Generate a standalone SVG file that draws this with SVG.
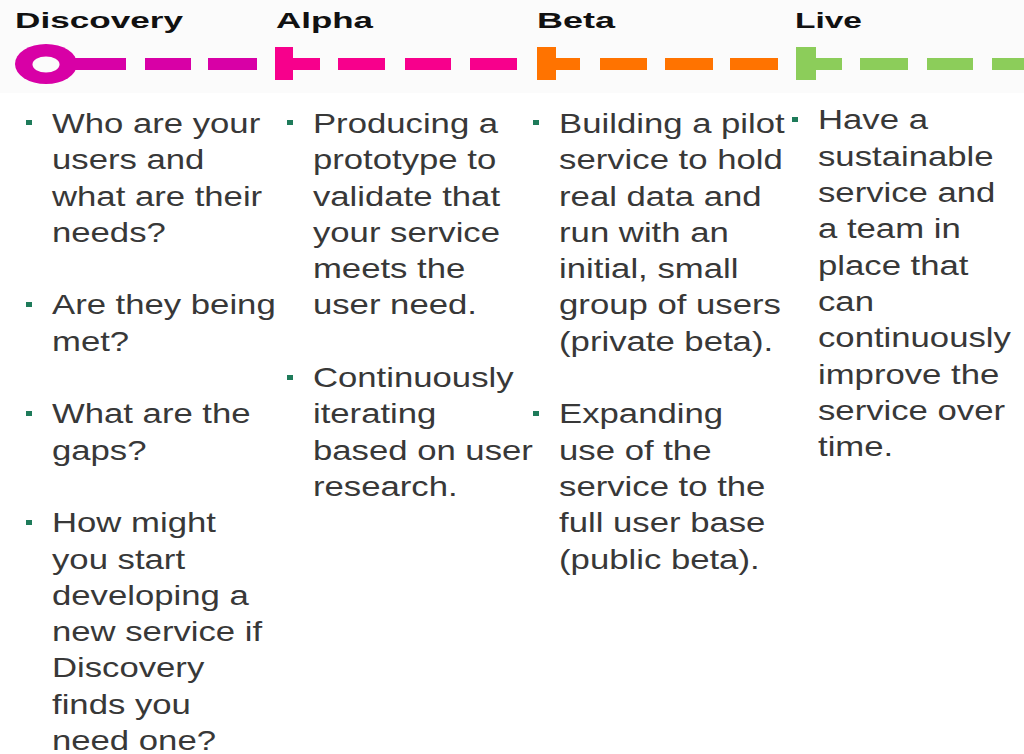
<svg xmlns="http://www.w3.org/2000/svg" width="1024" height="754" viewBox="0 0 1024 754">
<style>
.lbl{font-family:"Liberation Sans",Arial,sans-serif;font-weight:bold;font-size:22px;fill:#111}
.body{font-family:"Liberation Sans",Arial,sans-serif;font-size:27.5px;fill:#383838}
.bul{fill:#1e7b5a}
.disc{fill:#d800a6}.alpha{fill:#f7008c}.beta{fill:#ff7300}.live{fill:#8ccd5a}
</style>
<rect x="0" y="0" width="1024" height="754" fill="#ffffff"/>
<rect x="0" y="0" width="1024" height="93" fill="#fbfbfb"/>
<g id="connectors">
  <g class="disc">
    <rect x="66" y="58" width="60" height="12"/>
    <rect x="145" y="58" width="46" height="12"/>
    <rect x="208" y="58" width="49" height="12"/>
  </g>
  <g class="alpha">
    <rect x="291" y="58" width="29" height="12"/>
    <rect x="338" y="58" width="47" height="12"/>
    <rect x="405" y="58" width="46" height="12"/>
    <rect x="470" y="58" width="47" height="12"/>
  </g>
  <g class="beta">
    <rect x="555" y="58" width="25" height="12"/>
    <rect x="600" y="58" width="47" height="12"/>
    <rect x="665" y="58" width="48" height="12"/>
    <rect x="730" y="58" width="48" height="12"/>
  </g>
  <g class="live">
    <rect x="815" y="58" width="27" height="12"/>
    <rect x="860" y="58" width="48" height="12"/>
    <rect x="927" y="58" width="46" height="12"/>
    <rect x="992" y="58" width="40" height="12"/>
  </g>
</g>
<g id="discovery">
  <text class="lbl" x="15" y="28" textLength="168" lengthAdjust="spacingAndGlyphs">Discovery</text>
  <ellipse class="disc" cx="46" cy="64" rx="31" ry="20"/>
  <ellipse cx="46" cy="64.5" rx="13.5" ry="8" fill="#fbfbfb"/>
  <rect class="bul" x="26" y="120" width="6" height="5"/>
  <rect class="bul" x="26" y="302" width="6" height="5"/>
  <rect class="bul" x="26" y="411" width="6" height="5"/>
  <rect class="bul" x="26" y="520" width="6" height="5"/>
  <g transform="scale(1.262,1)">
    <text class="body" x="41.2">
      <tspan x="41.2" y="133">Who are your</tspan>
      <tspan x="41.2" y="169.3">users and</tspan>
      <tspan x="41.2" y="205.6">what are their</tspan>
      <tspan x="41.2" y="241.9">needs?</tspan>
      <tspan x="41.2" y="314.5">Are they being</tspan>
      <tspan x="41.2" y="350.8">met?</tspan>
      <tspan x="41.2" y="423.4">What are the</tspan>
      <tspan x="41.2" y="459.7">gaps?</tspan>
      <tspan x="41.2" y="532.3">How might</tspan>
      <tspan x="41.2" y="568.6">you start</tspan>
      <tspan x="41.2" y="604.9">developing a</tspan>
      <tspan x="41.2" y="641.2">new service if</tspan>
      <tspan x="41.2" y="677.5">Discovery</tspan>
      <tspan x="41.2" y="713.8">finds you</tspan>
      <tspan x="41.2" y="750.1">need one?</tspan>
    </text>
  </g>
</g>
<g id="alpha">
  <text class="lbl" x="276" y="28" textLength="97" lengthAdjust="spacingAndGlyphs">Alpha</text>
  <rect class="alpha" x="275" y="47" width="18" height="33"/>
  <rect class="bul" x="287" y="120" width="6" height="5"/>
  <rect class="bul" x="287" y="375" width="6" height="5"/>
  <g transform="scale(1.262,1)">
    <text class="body">
      <tspan x="248" y="133">Producing a</tspan>
      <tspan x="248" y="169.3">prototype to</tspan>
      <tspan x="248" y="205.6">validate that</tspan>
      <tspan x="248" y="241.9">your service</tspan>
      <tspan x="248" y="278.2">meets the</tspan>
      <tspan x="248" y="314.5">user need.</tspan>
      <tspan x="248" y="387.1">Continuously</tspan>
      <tspan x="248" y="423.4">iterating</tspan>
      <tspan x="248" y="459.7">based on user</tspan>
      <tspan x="248" y="496">research.</tspan>
    </text>
  </g>
</g>
<g id="beta">
  <text class="lbl" x="537" y="28" textLength="78" lengthAdjust="spacingAndGlyphs">Beta</text>
  <rect class="beta" x="537" y="47" width="19" height="33"/>
  <rect class="bul" x="533" y="120" width="6" height="5"/>
  <rect class="bul" x="533" y="411" width="6" height="5"/>
  <g transform="scale(1.262,1)">
    <text class="body">
      <tspan x="443" y="133">Building a pilot</tspan>
      <tspan x="443" y="169.3">service to hold</tspan>
      <tspan x="443" y="205.6">real data and</tspan>
      <tspan x="443" y="241.9">run with an</tspan>
      <tspan x="443" y="278.2">initial, small</tspan>
      <tspan x="443" y="314.5">group of users</tspan>
      <tspan x="443" y="350.8">(private beta).</tspan>
      <tspan x="443" y="423.4">Expanding</tspan>
      <tspan x="443" y="459.7">use of the</tspan>
      <tspan x="443" y="496">service to the</tspan>
      <tspan x="443" y="532.3">full user base</tspan>
      <tspan x="443" y="568.6">(public beta).</tspan>
    </text>
  </g>
</g>
<g id="live">
  <text class="lbl" x="795" y="28" textLength="67" lengthAdjust="spacingAndGlyphs">Live</text>
  <rect class="live" x="796" y="47" width="20" height="33"/>
  <rect class="bul" x="792" y="117" width="6" height="5"/>
  <g transform="scale(1.262,1)">
    <text class="body">
      <tspan x="648.2" y="129.5">Have a</tspan>
      <tspan x="648.2" y="165.8">sustainable</tspan>
      <tspan x="648.2" y="202.1">service and</tspan>
      <tspan x="648.2" y="238.4">a team in</tspan>
      <tspan x="648.2" y="274.7">place that</tspan>
      <tspan x="648.2" y="311">can</tspan>
      <tspan x="648.2" y="347.3">continuously</tspan>
      <tspan x="648.2" y="383.6">improve the</tspan>
      <tspan x="648.2" y="419.9">service over</tspan>
      <tspan x="648.2" y="456.2">time.</tspan>
    </text>
  </g>
</g>
</svg>
